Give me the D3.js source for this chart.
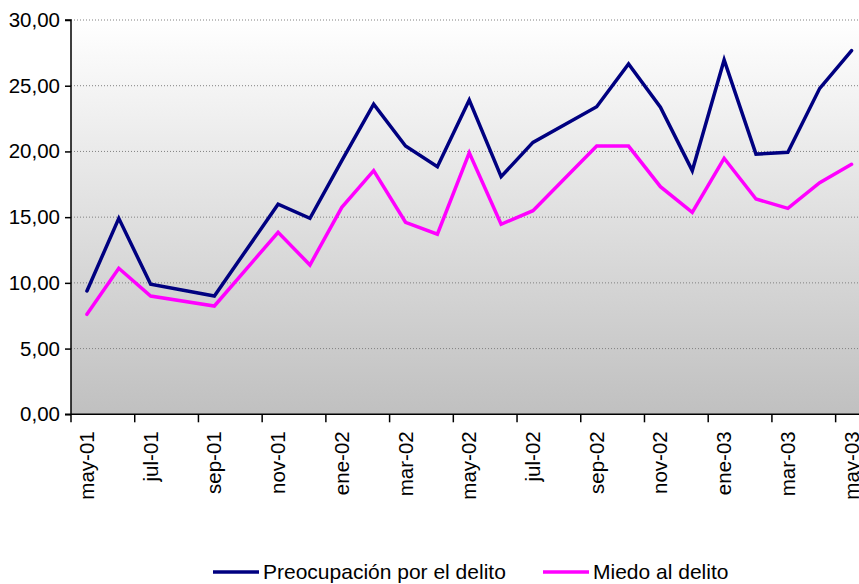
<!DOCTYPE html>
<html>
<head>
<meta charset="utf-8">
<script src="https://cdn.jsdelivr.net/npm/d3@7"></script>
<style>
  html, body { margin: 0; padding: 0; background: #fff; }
  svg { display: block; font-family: "Liberation Sans", Arial, sans-serif; }
</style>
</head>
<body>
<svg id="chart" width="859" height="584"></svg>
<script>
const months = ["may-01","jun-01","jul-01","ago-01","sep-01","oct-01","nov-01","dic-01","ene-02","feb-02","mar-02","abr-02","may-02","jun-02","jul-02","ago-02","sep-02","oct-02","nov-02","dic-02","ene-03","feb-03","mar-03","abr-03","may-03"];
const preocupacion = [9.38,14.91,9.89,null,9.0,null,15.98,14.91,19.3,23.6,20.41,18.84,23.91,18.08,20.69,null,23.4,26.65,23.36,18.54,26.96,19.8,19.93,24.8,27.67];
const miedo = [7.61,11.11,9.0,null,8.24,null,13.85,11.36,15.75,18.54,14.61,13.7,19.9,14.46,15.49,null,20.41,20.41,17.32,15.37,19.48,16.38,15.67,17.62,19.02];
const yTicks = [0,5,10,15,20,25,30];
const seriesNames = ["Preocupación por el delito","Miedo al delito"];
const seriesColors = ["#000080","#ff00ff"];

(function () {
const W = 859, H = 584;
const pLeft = 71, pTop = 20, pBottom = 414.3;
const band = 31.86;
const svg = d3.select("#chart");

const x = d3.scaleBand().domain(months).range([pLeft, pLeft + band * months.length]).padding(0);
const y = d3.scaleLinear().domain([0, 30]).range([pBottom, pTop]);
const fmt = d3.formatLocale({decimal: ",", thousands: ".", grouping: [3], currency: ["", "€"]}).format(".2f");

// background gradient
const defs = svg.append("defs");
const grad = defs.append("linearGradient").attr("id", "bg").attr("x1", 0).attr("y1", 0).attr("x2", 0).attr("y2", 1);
grad.append("stop").attr("offset", "0%").attr("stop-color", "#ffffff");
grad.append("stop").attr("offset", "100%").attr("stop-color", "#c0c0c0");
svg.append("rect").attr("x", pLeft).attr("y", pTop).attr("width", W - pLeft).attr("height", pBottom - pTop).attr("fill", "url(#bg)");

// gridlines
svg.append("g").selectAll("line").data(yTicks.filter(d => d > 0)).join("line")
  .attr("x1", pLeft).attr("x2", W).attr("y1", d => y(d)).attr("y2", d => y(d))
  .attr("stroke", "#808080").attr("stroke-width", 1).attr("stroke-dasharray", "1,2");

// y axis
const yAxis = d3.axisLeft(y).tickValues(yTicks).tickFormat(fmt).tickSize(6).tickPadding(5);
const gy = svg.append("g").attr("transform", `translate(${pLeft},0)`).call(yAxis);
gy.select(".domain").attr("stroke", "#000").attr("stroke-width", 1.5).attr("d", `M-6,${pTop}H0V${pBottom}`);
gy.selectAll(".tick line").attr("stroke", "#000").attr("stroke-width", 1.5);
gy.selectAll(".tick text").attr("font-size", "20.5px").attr("fill", "#000").attr("font-family", "Liberation Sans, Arial, sans-serif");

// x axis
const tickMonths = months.filter((m, i) => i % 2 === 0);
const xAxis = d3.axisBottom(x).tickValues(tickMonths).tickSize(8).tickFormat(d => d);
const gx = svg.append("g").attr("transform", `translate(0,${pBottom})`).call(xAxis);
gx.select(".domain").attr("stroke", "#000").attr("stroke-width", 1.5).attr("d", `M${pLeft - 6},0H${W}`);
gx.selectAll(".tick").attr("transform", d => `translate(${x(d)},0)`);
gx.selectAll(".tick line").attr("stroke", "#000").attr("stroke-width", 1.5);
gx.selectAll(".tick text")
  .attr("font-size", "20.5px").attr("fill", "#000").attr("font-family", "Liberation Sans, Arial, sans-serif")
  .attr("text-anchor", "end")
  .attr("dy", null)
  .attr("transform", `translate(${band / 2 + 7},17) rotate(-90)`)
  .attr("x", 0).attr("y", 0);

// lines
const series = [preocupacion, miedo];
const line = d3.line().x(d => x(d.m) + band / 2).y(d => y(d.v)).curve(d3.curveLinear);
series.forEach((vals, si) => {
  const pts = months.map((m, i) => ({m, v: vals[i]})).filter(d => d.v !== null);
  svg.append("path").datum(pts).attr("d", line)
    .attr("fill", "none").attr("stroke", seriesColors[si]).attr("stroke-width", 3.5)
    .attr("stroke-linejoin", "miter").attr("stroke-linecap", "round");
});

// legend
const legendY = 572;
const legendItems = [{x: 213}, {x: 543}];
legendItems.forEach((it, i) => {
  svg.append("line").attr("x1", it.x).attr("x2", it.x + 46).attr("y1", legendY).attr("y2", legendY)
    .attr("stroke", seriesColors[i]).attr("stroke-width", 3.5);
  svg.append("text").attr("x", it.x + 50).attr("y", legendY).attr("dy", "0.35em")
    .attr("font-size", "21px").attr("fill", "#000").text(seriesNames[i]);
});
})();
</script>
</body>
</html>
